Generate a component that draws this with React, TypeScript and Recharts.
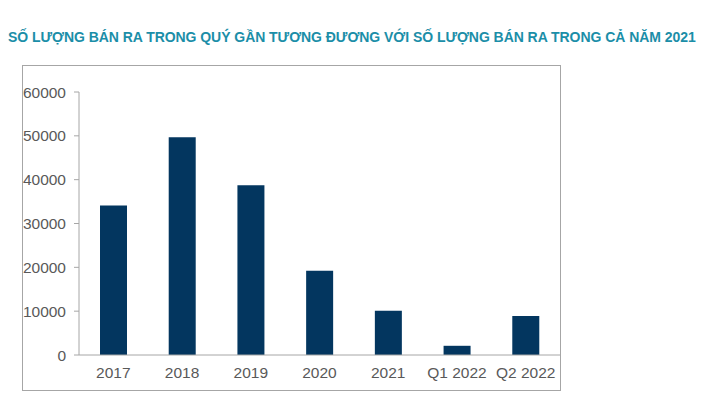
import React from 'react';
import { BarChart, Bar, XAxis, YAxis } from 'recharts';

const categories = ['2017', '2018', '2019', '2020', '2021', 'Q1 2022', 'Q2 2022'];
const values = [34100, 49700, 38700, 19200, 10100, 2100, 8900];
const yTicks = [0, 10000, 20000, 30000, 40000, 50000, 60000];
const title = 'SỐ LƯỢNG BÁN RA TRONG QUÝ GẦN TƯƠNG ĐƯƠNG VỚI SỐ LƯỢNG BÁN RA TRONG CẢ NĂM 2021';

const data = categories.map((c, i) => ({ name: c, value: values[i] }));

export default function App() {
  return (
    <div style={{ position: 'absolute', left: 0, top: 0, width: 717, height: 394, background: '#fff', overflow: 'hidden' }}>
      <div
        style={{
          position: 'absolute',
          left: 8,
          top: 28,
          fontFamily: '"Liberation Sans", Arial, sans-serif',
          fontWeight: 'bold',
          fontSize: 14,
          letterSpacing: -0.05,
          color: '#1b8ea8',
          whiteSpace: 'nowrap',
          lineHeight: '18px',
        }}
      >
        {title}
      </div>
      <div
        style={{
          position: 'absolute',
          left: 22,
          top: 65,
          width: 539,
          height: 326,
          border: '1px solid #a6a6a6',
          boxSizing: 'border-box',
        }}
      >
        <BarChart
          width={539}
          height={326}
          data={data}
          margin={{ top: 27, right: 1, left: -1, bottom: 0 }}
          style={{ position: 'absolute', left: -1, top: -1 }}
        >
          <XAxis
            dataKey="name"
            height={36}
            tickLine={false}
            tickSize={0}
            tickMargin={12}
            axisLine={{ stroke: '#a6a6a6' }}
            tick={{ fill: '#595959', fontSize: 15.5, fontFamily: '"Liberation Sans", Arial, sans-serif' }}
            interval={0}
          />
          <YAxis
            width={58}
            domain={[0, 60000]}
            ticks={yTicks}
            tickSize={5}
            tickMargin={8}
            axisLine={{ stroke: '#a6a6a6' }}
            tickLine={{ stroke: '#a6a6a6' }}
            tick={{ fill: '#595959', fontSize: 15.5, fontFamily: '"Liberation Sans", Arial, sans-serif' }}
            interval={0}
          />
          <Bar dataKey="value" fill="#03365f" barSize={27} isAnimationActive={false} />
        </BarChart>
      </div>
    </div>
  );
}
